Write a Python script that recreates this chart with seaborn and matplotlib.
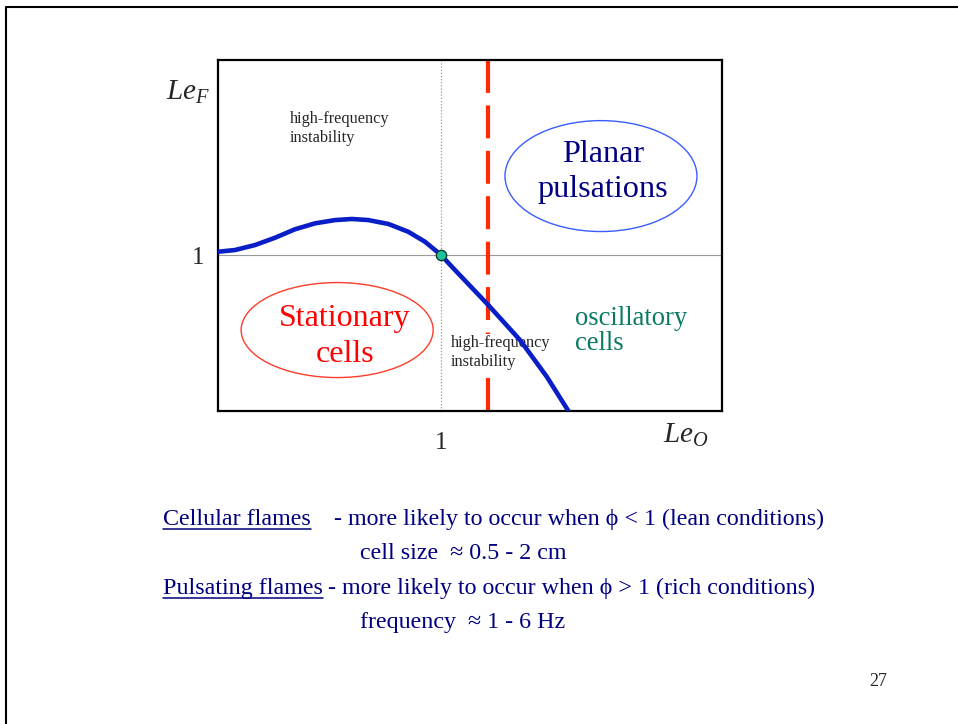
import matplotlib
matplotlib.use("Agg")
import matplotlib.pyplot as plt
from matplotlib.patches import Ellipse
from matplotlib.lines import Line2D
import seaborn as sns

# --- data ---
le_o = [0.0, 0.076, 0.166, 0.256, 0.345, 0.435, 0.525, 0.600, 0.674, 0.764,
        0.853, 0.928, 1.0, 1.055, 1.212, 1.354, 1.474, 1.571]
le_f = [1.021, 1.032, 1.064, 1.111, 1.165, 1.203, 1.224, 1.231, 1.224, 1.199,
        1.149, 1.085, 1.0, 0.915, 0.679, 0.455, 0.220, 0.0]
crit_point_x = [1.0]
crit_point_y = [1.0]
le_o_crit = 1.21          # red dashed boundary
x_ticks = [1]
y_ticks = [1]
x_max, y_max = 2.26, 2.25

sns.set_style("white")
plt.rcParams['font.family'] = ['Liberation Serif', 'DejaVu Serif']
plt.rcParams['mathtext.fontset'] = 'custom'
plt.rcParams['mathtext.rm'] = 'Liberation Serif'
plt.rcParams['mathtext.it'] = 'Liberation Serif:italic'

navy = '#000080'
W, H = 958, 724
fig = plt.figure(figsize=(9.58, 7.24), dpi=100)
ax = fig.add_axes([0.2276, 0.4323, 0.5261, 0.4848])

# reference lines
ax.axhline(1, color='#999999', lw=0.8, zorder=1)
ax.axvline(1, color='#999999', lw=0.9, ls=(0, (1, 1.5)), zorder=1)
# boundary drawn top-down so the dash pattern starts at the top
ax.plot([le_o_crit, le_o_crit], [y_max, 0], color='#ff2a00', lw=3.0,
        ls=(0, (7.9, 3.0)), zorder=2)

sns.lineplot(x=le_o, y=le_f, ax=ax, sort=False, color='#0a1ec8', lw=3.3, zorder=4)
ax.lines[-1].set_solid_joinstyle('round')
sns.scatterplot(x=crit_point_x, y=crit_point_y, ax=ax, color='#1fc09a',
                edgecolor='#0b3d2e', linewidth=1, s=55, zorder=5)

ax.set_xlim(0, x_max)
ax.set_ylim(0, y_max)
ax.set_xticks(x_ticks)
ax.set_yticks(y_ticks)
ax.set_xticklabels(['1'], fontsize=18)
ax.set_yticklabels(['1'], fontsize=18)
ax.tick_params(axis='x', length=5, width=1, color='#777777', pad=10)
ax.tick_params(axis='y', length=3, width=1, color='#999999', pad=7)
for s in ax.spines.values():
    s.set_color('black')
    s.set_linewidth(1.6)


def at(px, py, s, **kw):
    # place a label by slide pixel position
    return ax.text(px / W, 1 - py / H, s, transform=fig.transFigure, **kw)


# regions
ax.add_patch(Ellipse((1.717, 1.506), 0.861, 0.711, fill=False, ec='#3a5cff', lw=1))
ax.add_patch(Ellipse((0.534, 0.519), 0.861, 0.609, fill=False, ec='#ff3b2a', lw=1))
at(603, 155, 'Planar', color=navy, fontsize=23.2, ha='center', va='center')
at(603, 190, 'pulsations', color=navy, fontsize=23.2, ha='center', va='center')
at(345, 318, 'Stationary', color='#ff0000', fontsize=23, ha='center', va='center')
at(345, 355, 'cells', color='#ff0000', fontsize=23, ha='center', va='center')
at(575, 318, 'oscillatory', color='#0b7a62', fontsize=19.2, ha='left', va='center')
at(575, 343, 'cells', color='#0b7a62', fontsize=19.2, ha='left', va='center')
at(290, 119, 'high-frequency', fontsize=11.7, ha='left', va='center')
at(290, 138, 'instability', fontsize=11.7, ha='left', va='center')
# lower label sits on a white patch that hides part of the red line
at(451, 343, 'high-frequency', fontsize=11.7, ha='left', va='center', zorder=3,
   bbox=dict(fc='white', ec='none', pad=1))
at(451, 362, 'instability', fontsize=11.7, ha='left', va='center', zorder=3,
   bbox=dict(fc='white', ec='none', pad=2))

# axis labels
fig.text(188 / W, 1 - 92 / H, r'$Le_F$', fontsize=21, ha='center', va='center')
fig.text(686 / W, 1 - 435 / H, r'$Le_O$', fontsize=21, ha='center', va='center')

# slide text
fs = 17.3


def ft(x, y, s, **kw):
    return fig.text(x / W, 1 - y / H, s, fontsize=fs, color=navy, va='baseline', **kw)


t1 = ft(163, 525, 'Cellular flames')
ft(334, 525, '- more likely to occur when \u03d5 < 1 (lean conditions)')
ft(360, 559, 'cell size  \u2248 0.5 - 2 cm')
t3 = ft(163, 594, 'Pulsating flames')
ft(322, 594, ' - more likely to occur when \u03d5 > 1 (rich conditions)')
ft(360, 628, 'frequency  \u2248 1 - 6 Hz')

fig.canvas.draw()
r = fig.canvas.get_renderer()
for t, yy in [(t1, 529), (t3, 598)]:
    bb = t.get_window_extent(r)
    fig.add_artist(Line2D([bb.x0 / W, bb.x1 / W], [1 - yy / H, 1 - yy / H],
                          color=navy, lw=1.1))

fig.text(878 / W, 1 - 682 / H, '27', fontsize=13, ha='center', va='center')

# slide frame
fig.add_artist(Line2D([6 / W, 6 / W, 1.0], [0.0, 1 - 7 / H, 1 - 7 / H],
                      color='black', lw=1.5))

fig.savefig('out.png', dpi=100)
